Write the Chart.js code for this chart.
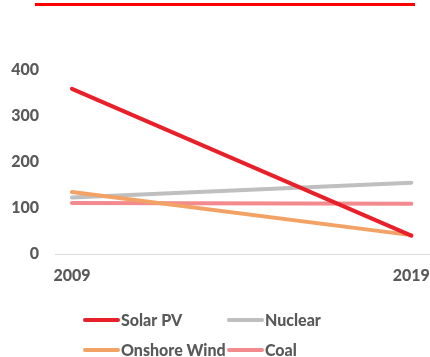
<!DOCTYPE html>
<html>
<head>
<meta charset="utf-8">
<script src="https://cdn.jsdelivr.net/npm/chart.js@4/dist/chart.umd.min.js"></script>
<style>
  html, body { margin: 0; padding: 0; background: #ffffff; }
  #wrap { width: 430px; height: 357px; position: relative; }
</style>
</head>
<body>
<div id="wrap"><canvas id="chart" width="430" height="357"></canvas></div>
<script>
// Years on the horizontal axis
const years = [2009, 2019];
// Levelised cost values per technology
const solarPV = [359, 40];
const nuclear = [123, 155];
const onshoreWind = [135, 41];
const coal = [111, 109];
// Vertical axis ticks
const yTicks = [0, 100, 200, 300, 400];

const seriesNames = ['Solar PV', 'Nuclear', 'Onshore Wind', 'Coal'];
const seriesColors = ['#e8202a', '#bfbfbf', '#f2a264', '#f38a8d'];
const seriesValues = [solarPV, nuclear, onshoreWind, coal];
const drawOrder = [0, 2, 1, 3];

const textColor = '#595959';
const fontFamily = 'Lato, "Open Sans", sans-serif';
const fontWeight = '900';

const datasets = seriesNames.map((name, i) => ({
  label: name,
  data: years.map((y, j) => ({ x: y, y: seriesValues[i][j] })),
  borderColor: seriesColors[i],
  backgroundColor: seriesColors[i],
  borderWidth: 4,
  borderCapStyle: 'round',
  pointRadius: 0,
  tension: 0,
  order: drawOrder[i]
}));

// Top rule and a two-column legend drawn on the canvas
const decorations = {
  id: 'decorations',
  afterDraw(chart) {
    const ctx = chart.ctx;
    ctx.save();
    ctx.strokeStyle = '#ff0000';
    ctx.lineWidth = 3;
    ctx.beginPath();
    ctx.moveTo(35, 4.5);
    ctx.lineTo(415, 4.5);
    ctx.stroke();

    const cols = [84, 228];
    const rows = [320, 350];
    ctx.font = fontWeight + ' 16px ' + fontFamily;
    ctx.textBaseline = 'middle';
    ctx.textAlign = 'left';
    chart.data.datasets.forEach((ds, i) => {
      const x = cols[i % 2];
      const y = rows[Math.floor(i / 2)];
      ctx.strokeStyle = ds.borderColor;
      ctx.lineWidth = 4;
      ctx.lineCap = 'round';
      ctx.beginPath();
      ctx.moveTo(x + 1, y);
      ctx.lineTo(x + 34, y);
      ctx.stroke();
      ctx.fillStyle = textColor;
      ctx.fillText(ds.label, x + 37, y + 1);
    });
    ctx.restore();
  }
};

new Chart(document.getElementById('chart'), {
  type: 'line',
  data: { datasets },
  plugins: [decorations],
  options: {
    responsive: false,
    animation: false,
    layout: { padding: { top: 70, left: 0, right: 0, bottom: 68 } },
    plugins: {
      legend: { display: false },
      tooltip: { enabled: false }
    },
    scales: {
      x: {
        type: 'linear',
        min: 2008.5,
        max: 2019.55,
        afterBuildTicks: s => { s.ticks = years.map(v => ({ value: v })); },
        afterFit: s => { s.height = 35; s.paddingLeft = 0; s.paddingRight = 0; },
        grid: { display: false, drawTicks: false },
        border: { display: false },
        ticks: {
          padding: 12,
          color: textColor,
          font: { family: fontFamily, size: 16, weight: fontWeight },
          callback: v => String(v),
          maxRotation: 0
        }
      },
      y: {
        min: 0,
        max: 400,
        afterBuildTicks: s => { s.ticks = yTicks.map(v => ({ value: v })); },
        afterFit: s => { s.width = 55; },
        grid: {
          drawTicks: false,
          lineWidth: 1,
          color: c => (c.tick && c.tick.value === 0 ? '#d9d9d9' : 'rgba(0,0,0,0)')
        },
        border: { display: false },
        ticks: {
          padding: 16,
          color: textColor,
          font: { family: fontFamily, size: 16, weight: fontWeight }
        }
      }
    }
  }
});
</script>
</body>
</html>
